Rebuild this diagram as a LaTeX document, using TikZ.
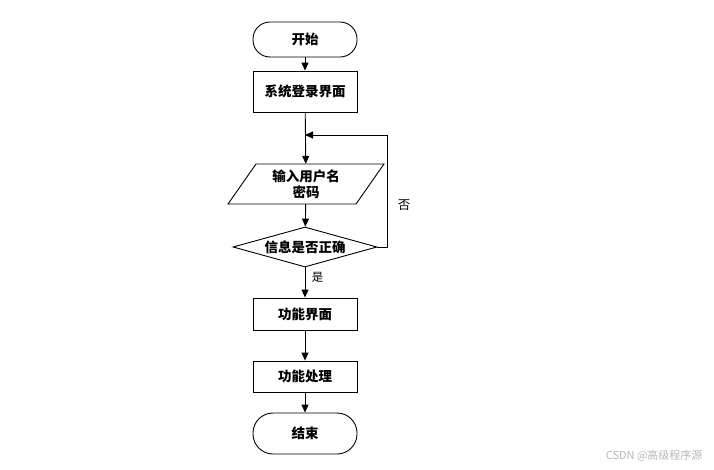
\documentclass[tikz,border=0pt]{standalone}
\usepackage{fontspec}
\newfontfamily\cjk{Noto Sans CJK SC}
\usetikzlibrary{shapes.geometric,arrows.meta}
\begin{document}
\begin{tikzpicture}[x=1pt,y=-1pt,
  every node/.style={font=\cjk\bfseries\fontsize{13.5}{17}\selectfont},
  term/.style={draw,line width=0.9pt,rectangle,rounded corners=17pt,minimum width=104pt,inner sep=0pt},
  proc/.style={draw,line width=0.9pt,rectangle,minimum width=104pt,inner sep=0pt},
  decis/.style={draw,line width=0.9pt,diamond,aspect=3.6,minimum width=144pt,minimum height=40pt,inner sep=0pt},
  arr/.style={line width=0.9pt,-{Triangle[length=8pt,width=7pt]}},
  lbl/.style={font=\cjk\fontsize{11.5}{14}\selectfont}]
\path[fill=white] (0,0) rectangle (714,469);
\useasboundingbox (0,0) rectangle (714,469);
\node[term,minimum height=35pt] (start) at (305,39.5) {开始};
\node[proc,minimum height=41pt] (login) at (305,91.5) {系统登录界面};
\node[minimum width=128pt,minimum height=40pt,inner sep=0pt,align=center] (io) at (306,184) {输入用户名\\[-1pt]密码};
\draw[line width=0.9pt] (256,164) -- (384,164) -- (356,204) -- (228,204) -- cycle;
\node[decis] (dec) at (305,247) {信息是否正确};
\node[proc,minimum height=32pt] (func) at (305,314) {功能界面};
\node[proc,minimum height=31pt] (proc2) at (305,376.5) {功能处理};
\node[term,rounded corners=20pt,minimum height=41pt] (end) at (305,433.5) {结束};
\coordinate (loopin) at (305,135);
\coordinate (loopr) at (387,247);
\draw[arr] (start) -- (login);
\draw[arr] (login) -- (io);
\draw[arr] (io) -- (dec);
\draw[arr] (dec) -- (func) node[lbl,pos=0.32,right=3pt] (yes) {是};
\draw[arr] (func) -- (proc2);
\draw[arr] (proc2) -- (end);
\draw[arr] (dec.east) -- (loopr) |- (loopin);
\node[lbl,font=\cjk\fontsize{12.5}{15}\selectfont] (no) at (404,205) {否};
\node[font=\cjk\fontsize{11}{13}\selectfont,text=black!28,anchor=east] (wm) at (706,456) {CSDN @高级程序源};
\end{tikzpicture}
\end{document}
